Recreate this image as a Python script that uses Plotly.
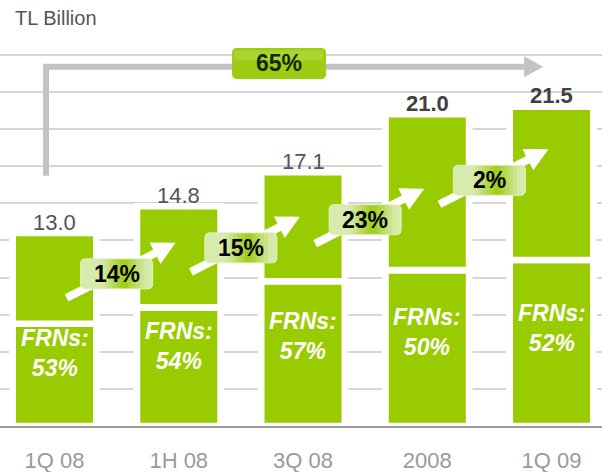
import numpy as np
import plotly.graph_objects as go

# values (TL billion)
periods = ['1Q 08', '1H 08', '3Q 08', '2008', '1Q 09']
totals = [13.0, 14.8, 17.1, 21.0, 21.5]
frn_share = [53, 54, 57, 50, 52]          # % of the total that is FRNs
growth = ['14%', '15%', '23%', '2%']      # period-on-period growth
growth_total = '65%'

frn = [t * s / 100 for t, s in zip(totals, frn_share)]
rest = [t - f for t, f in zip(totals, frn)]

# ---- layout / placement (not data) ----
W, H = 602, 472
M_T, M_B = 40, 46
Y_MAX = 26
X_RANGE = [-0.4386, 4.406]
PX_X = W / (X_RANGE[1] - X_RANGE[0])
PX_Y = (H - M_T - M_B) / Y_MAX

GREEN = '#99cc00'
LIGHT = np.array([216, 235, 174])
DEEP = np.array([156, 204, 18])
FONT = 'Arial, "Liberation Sans", sans-serif'

badge_y = [10.25, 12.0, 13.9, 16.55]     # centres of the growth badges
bold_top = [False, False, False, True, True]
big_arrow = dict(x0=-0.068, x1=3.78, tip=3.932, y0=16.85, y=24.2, badge_x=1.807, badge_y=24.42)


def rrect(w, h, r):
    x0, x1, y0, y1 = -w / 2, w / 2, -h / 2, h / 2
    return (f'M{x0 + r},{y0} L{x1 - r},{y0} Q{x1},{y0} {x1},{y0 + r} '
            f'L{x1},{y1 - r} Q{x1},{y1} {x1 - r},{y1} L{x0 + r},{y1} '
            f'Q{x0},{y1} {x0},{y1 - r} L{x0},{y0 + r} Q{x0},{y0} {x0 + r},{y0} Z')


def pix(xa, ya, **kw):
    d = dict(xref='x', yref='y', xsizemode='pixel', ysizemode='pixel',
             xanchor=xa, yanchor=ya, layer='above')
    d.update(kw)
    return d


fig = go.Figure()

# white halo behind each bar so gridlines stop short of the columns
fig.add_trace(go.Bar(x=periods, y=totals, base=0, width=0.724,
                     marker=dict(color='white', line=dict(width=0)), hoverinfo='skip'))
fig.add_trace(go.Bar(x=periods, y=frn, base=0, width=0.673,
                     marker=dict(color=GREEN, line=dict(color='white', width=6.6))))
fig.add_trace(go.Bar(x=periods, y=rest, base=frn, width=0.673,
                     marker=dict(color=GREEN, line=dict(color='white', width=6.6))))

shapes = []
annotations = []

# growth arrows + gradient badges
u = np.array([109.0, 55.0]); u /= np.linalg.norm(u)
n = np.array([-u[1], u[0]])
tail = np.array([-50.0, -24.0])
tip = np.array([59.0, 31.0])
for i, g in enumerate(growth):
    xc, yc = i + 0.5, badge_y[i]
    end = tip - 14 * u
    shapes.append(pix(xc, yc, type='line', x0=tail[0], y0=tail[1], x1=end[0], y1=end[1],
                      line=dict(color='white', width=8)))
    b = tip - 23 * u
    c1, c2 = b + 12 * n, b - 12 * n
    shapes.append(pix(xc, yc, type='path',
                      path=f'M{tip[0]},{tip[1]} L{c1[0]},{c1[1]} L{c2[0]},{c2[1]} Z',
                      fillcolor='white', line=dict(width=0)))
    bw, bh, r = 72, 30, 5
    shapes.append(pix(xc, yc, type='path', path=rrect(bw, bh, r),
                      fillcolor='rgb(216,235,174)', line=dict(color='#e4f1c8', width=1)))
    ns = 16
    step = (bw - 2 * r) / ns
    for j in range(ns):
        xa = -bw / 2 + r + j * step
        t = (xa + step / 2 + bw / 2) / bw
        wgt = max(0.0, 1 - abs(t - 0.6) / 0.32)
        col = LIGHT + (DEEP - LIGHT) * wgt
        shapes.append(pix(xc, yc, type='rect', x0=xa, x1=xa + step + 0.6,
                          y0=-bh / 2 + 0.5, y1=bh / 2 - 0.5,
                          fillcolor=f'rgb({col[0]:.0f},{col[1]:.0f},{col[2]:.0f})',
                          line=dict(width=0)))
    annotations.append(dict(x=xc, y=yc, text=f'<b>{g}</b>', showarrow=False,
                            font=dict(size=23, color='black', family=FONT)))

# overall growth arrow (grey elbow)
ba = big_arrow
shapes.append(dict(type='path', xref='x', yref='y', layer='above',
                   path=f"M{ba['x0']},{ba['y0']} L{ba['x0']},{ba['y']} L{ba['x1']},{ba['y']}",
                   line=dict(color='#c3c3c3', width=6), fillcolor='rgba(0,0,0,0)'))
hh = 10.5 / PX_Y
shapes.append(dict(type='path', xref='x', yref='y', layer='above',
                   path=f"M{ba['x1']},{ba['y'] + hh} L{ba['tip']},{ba['y']} L{ba['x1']},{ba['y'] - hh} Z",
                   fillcolor='#c3c3c3', line=dict(width=0)))
shapes.append(pix(ba['badge_x'], ba['badge_y'], type='path', path=rrect(94, 31, 5),
                  fillcolor='#9dcd12', line=dict(width=0)))
shapes.append(pix(ba['badge_x'], ba['badge_y'], type='rect', x0=-44, x1=44, y0=3, y1=13,
                  fillcolor='#a9d532', line=dict(width=0)))
annotations.append(dict(x=ba['badge_x'], y=ba['badge_y'], text=f'<b>{growth_total}</b>',
                        showarrow=False, font=dict(size=23, color='#142800', family=FONT)))

# totals above the columns (category index used so '2008' is not read as a number)
for i, (t, bold) in enumerate(zip(totals, bold_top)):
    txt = f'<b>{t:.1f}</b>' if bold else f'{t:.1f}'
    annotations.append(dict(x=i, y=t, text=txt, showarrow=False, yanchor='middle', yshift=11,
                            font=dict(size=22, color='#404040' if bold else '#555555', family=FONT)))

# FRN share inside the lower segment
for i, (f, s) in enumerate(zip(frn, frn_share)):
    annotations.append(dict(x=i, y=0.4 * f + 2.16, text=f'<b><i>FRNs:</i></b><br><b><i>{s}%</i></b>',
                            showarrow=False, font=dict(size=23, color='white', family=FONT)))

annotations.append(dict(xref='paper', yref='paper', x=13 / W,
                        y=1 + (M_T - 18) / (H - M_T - M_B), xanchor='left',
                        yanchor='middle', text='TL Billion', showarrow=False,
                        font=dict(size=20, color='#555555', family=FONT)))

fig.update_layout(
    width=W, height=H,
    margin=dict(l=0, r=0, t=M_T, b=M_B),
    barmode='overlay', showlegend=False, hovermode=False,
    plot_bgcolor='white', paper_bgcolor='white',
    font=dict(family=FONT),
    xaxis=dict(type='category', range=X_RANGE, showgrid=False, zeroline=False,
               showline=True, linecolor='#9a9a9a', linewidth=2, ticks='',
               tickfont=dict(size=22, color='#9a9a9a', family=FONT), ticklabelstandoff=14),
    yaxis=dict(range=[0, Y_MAX], tick0=0, dtick=2.5, showgrid=True, gridcolor='#d6d6d6',
               gridwidth=1.5, zeroline=False, showticklabels=False, showline=False),
    shapes=shapes, annotations=annotations,
)

# the page body has an 8px default margin; drop it so the chart sits at the window corner
fig.write_html('out.html', config={'displayModeBar': False},
               post_script="document.body.style.margin='0px';")
